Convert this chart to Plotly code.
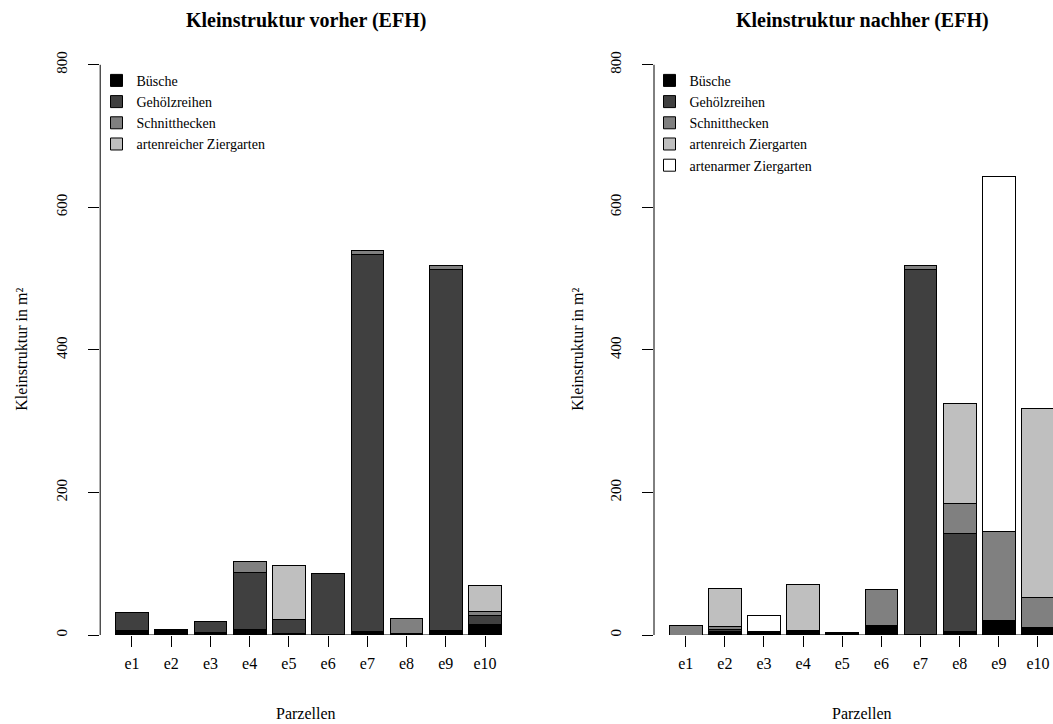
import plotly.graph_objects as go

# ---------------- data ----------------
parcels = ["e1", "e2", "e3", "e4", "e5", "e6", "e7", "e8", "e9", "e10"]

# vorher (before)
before_buesche = [6, 8, 4, 8, 2, 1, 5, 2, 7, 15]
before_gehoelz = [26, 0, 15, 79, 20, 85, 529, 0, 506, 13]
before_schnitt = [0, 0, 0, 16, 0, 0, 5, 21, 5, 5]
before_artenreich = [0, 0, 0, 0, 75, 0, 0, 0, 0, 37]

# nachher (after)
after_buesche = [0, 5, 5, 6, 3, 14, 1, 5, 20, 11]
after_gehoelz = [0, 3, 0, 0, 0, 0, 512, 138, 0, 0]
after_schnitt = [13, 4, 0, 0, 0, 50, 5, 42, 125, 41]
after_artenreich = [0, 53, 0, 65, 0, 0, 0, 140, 0, 266]
after_artenarm = [0, 0, 23, 0, 0, 0, 0, 0, 498, 0]

y_ticks = [0, 200, 400, 600, 800]

title_left = "Kleinstruktur vorher (EFH)"
title_right = "Kleinstruktur nachher (EFH)"
y_title = "Kleinstruktur in m²"
x_title = "Parzellen"

# ---------------- layout helpers ----------------
W, H = 1053, 724
MT, MB = 42.2, 88.7
PH = H - MT - MB
FONT = "Liberation Serif"


def px_x(p):
    return p / W


def px_y(p):
    return (H - MB - p) / PH


C_BUE = "#000000"
C_GEH = "#404040"
C_SCH = "#808080"
C_ARE = "#bfbfbf"
C_ARM = "#ffffff"

fig = go.Figure()

left_series = [
    ("Büsche", before_buesche, C_BUE),
    ("Gehölzreihen", before_gehoelz, C_GEH),
    ("Schnitthecken", before_schnitt, C_SCH),
    ("artenreicher Ziergarten", before_artenreich, C_ARE),
]
right_series = [
    ("Büsche", after_buesche, C_BUE),
    ("Gehölzreihen", after_gehoelz, C_GEH),
    ("Schnitthecken", after_schnitt, C_SCH),
    ("artenreich Ziergarten", after_artenreich, C_ARE),
    ("artenarmer Ziergarten", after_artenarm, C_ARM),
]

for name, vals, col in left_series:
    fig.add_trace(go.Bar(
        x=parcels, y=vals, name=name, xaxis="x", yaxis="y", legend="legend",
        marker=dict(color=col, line=dict(color="black", width=1)),
    ))
for name, vals, col in right_series:
    fig.add_trace(go.Bar(
        x=parcels, y=vals, name=name, xaxis="x2", yaxis="y2", legend="legend2",
        marker=dict(color=col, line=dict(color="black", width=1)),
    ))

xcommon = dict(
    type="category", showgrid=False, zeroline=False, showline=False,
    ticks="outside", ticklen=11, tickcolor="black", tickwidth=1,
    tickfont=dict(family=FONT, size=16, color="black"),
    ticklabelstandoff=3,
)
ycommon = dict(
    range=[0, 832], tickvals=y_ticks, showgrid=False, zeroline=False,
    showline=False, ticks="outside", ticklen=11, tickcolor="black", tickwidth=1,
    tickangle=-90, tickfont=dict(family=FONT, size=15, color="black"),
    ticklabelstandoff=15,
)

legend_common = dict(
    bgcolor="rgba(0,0,0,0)", borderwidth=0, traceorder="normal",
    font=dict(family=FONT, size=14, color="black"),
    xanchor="left", yanchor="top", tracegroupgap=0,
)

fig.update_layout(
    width=W, height=H,
    margin=dict(l=0, r=0, t=MT, b=MB),
    paper_bgcolor="white", plot_bgcolor="white",
    barmode="stack", bargap=1 / 6,
    xaxis=dict(domain=[px_x(100.2), px_x(516.8)], range=[-0.81, 9.81], anchor="y", **xcommon),
    yaxis=dict(domain=[0, 1], anchor="x", **ycommon),
    xaxis2=dict(domain=[px_x(654), 1], range=[-0.81, 9.384], anchor="y2", **xcommon),
    yaxis2=dict(domain=[0, 1], anchor="x2", **ycommon),
    legend=dict(x=px_x(96.5), y=px_y(65), **legend_common),
    legend2=dict(x=px_x(649.5), y=px_y(65), **legend_common),
    showlegend=True,
)

# axis lines as R draws them (only over the tick range)
shapes = []
for xr, yr in (("x", "y"), ("x2", "y2")):
    shapes.append(dict(type="line", xref=xr + " domain", yref=yr, x0=0, x1=0,
                       y0=y_ticks[0], y1=y_ticks[-1], line=dict(color="black", width=1)))
    shapes.append(dict(type="line", xref=xr, yref=yr, x0=0, x1=len(parcels) - 1,
                       y0=0, y1=0, line=dict(color="black", width=1), layer="below"))
fig.update_layout(shapes=shapes)

annotations = []
for cx, title in ((306, title_left), (862, title_right)):
    annotations.append(dict(text="<b>" + title + "</b>", x=px_x(cx), y=px_y(21),
                            xref="paper", yref="paper", showarrow=False,
                            xanchor="center", yanchor="middle",
                            font=dict(family=FONT, size=20, color="black")))
    annotations.append(dict(text=x_title, x=px_x(cx), y=px_y(714),
                            xref="paper", yref="paper", showarrow=False,
                            xanchor="center", yanchor="middle",
                            font=dict(family=FONT, size=16, color="black")))
for cx in (22, 578):
    annotations.append(dict(text=y_title, x=px_x(cx), y=px_y(350), textangle=-90,
                            xref="paper", yref="paper", showarrow=False,
                            xanchor="center", yanchor="middle",
                            font=dict(family=FONT, size=16, color="black")))
fig.update_layout(annotations=annotations)

fig.write_html("out.html")
